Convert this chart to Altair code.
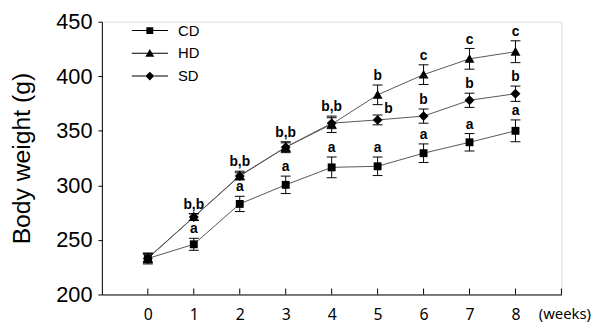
import altair as alt
import pandas as pd

weeks = [0, 1, 2, 3, 4, 5, 6, 7, 8]
groups = ["CD", "HD", "SD"]

cd_mean = [233, 246, 283, 300.5, 316.5, 317.5, 329.5, 339.5, 350]
cd_err = [5, 5.5, 7, 8, 9.5, 8.5, 8.5, 8, 10]
hd_mean = [233.5, 271, 309, 335, 356, 383, 401.5, 416, 422.5]
hd_err = [4, 3, 4, 5, 7.5, 9, 9, 9.5, 10]
sd_mean = [233, 271, 308.5, 335, 357, 360, 363.5, 378, 384]
sd_err = [4, 3, 3, 4, 5, 4.5, 6.5, 6.5, 7]

cd_lab = ["", "a", "a", "a", "a", "a", "a", "a", "a"]
hd_lab = ["", "b,b", "b,b", "b,b", "b,b", "b", "c", "c", "c"]
sd_lab = ["", "", "", "", "", "", "b", "b", "b"]
sd_side_lab = ["", "", "", "", "", "b", "", "", ""]

x_ticks = [0, 1, 2, 3, 4, 5, 6, 7, 8, 9]
y_ticks = [200, 250, 300, 350, 400, 450]

rows = []
for g, m, e, lab, side in [
    ("CD", cd_mean, cd_err, cd_lab, [""] * 9),
    ("HD", hd_mean, hd_err, hd_lab, [""] * 9),
    ("SD", sd_mean, sd_err, sd_lab, sd_side_lab),
]:
    for w, mv, ev, lv, sv in zip(weeks, m, e, lab, side):
        rows.append(dict(week=w, group=g, mean=mv, lo=mv - ev, hi=mv + ev, label=lv, side=sv))
df = pd.DataFrame(rows)

W, H = 465, 276
U = 18.5  # px per path unit (symbol box = 37px)
def p(v):
    return f"{v / U:.3f}"

# marker shapes (chart)
sq = f"M{p(-4)},{p(-4)}H{p(4)}V{p(4)}H{p(-4)}Z"
tri = f"M0,{p(-5)}L{p(5)},{p(4)}L{p(-5)},{p(4)}Z"
dia = f"M0,{p(-5)}L{p(5)},0L0,{p(5)}L{p(-5)},0Z"
# legend symbols: thin line + marker
def with_line(marker, gap):
    return (f"M-1,{p(-0.5)}H{p(-gap)}V{p(0.5)}H-1Z"
            f"M{p(gap)},{p(-0.5)}H1V{p(0.5)}H{p(gap)}Z" + marker)
sq_l = with_line(f"M{p(-3.5)},{p(-3.5)}H{p(3.5)}V{p(3.5)}H{p(-3.5)}Z", 3.5)
tri_l = with_line(f"M0,{p(-4.5)}L{p(4.5)},{p(3.5)}L{p(-4.5)},{p(3.5)}Z", 2)
dia_l = with_line(f"M0,{p(-4.5)}L{p(4.5)},0L0,{p(4.5)}L{p(-4.5)},0Z", 4.5)

FONT = "Liberation Sans"

x_scale = alt.Scale(domain=[-1, 9], nice=False, zero=False)
y_scale = alt.Scale(domain=[200, 450], nice=False, zero=False)
x_axis = alt.Axis(values=weeks, ticks=False, tickSize=0, labelPadding=12,
                  labelFont="Noto Sans", labelFontSize=16, labelColor="black",
                  domainColor="black", domainWidth=1, grid=False,
                  title="(weeks)", titleFont="Noto Sans", titleFontSize=15,
                  titleFontWeight="normal", titleColor="black",
                  titleX=468, titleY=19, titleAlign="center", titleBaseline="middle")
y_axis = alt.Axis(values=y_ticks, tickSize=4, tickColor="black", labelPadding=6,
                  labelFont=FONT, labelFontSize=22, labelColor="black",
                  domainColor="black", domainWidth=1, grid=False,
                  title="Body weight (g)", titleFont=FONT, titleFontSize=25,
                  titleFontWeight="normal", titleColor="black", titlePadding=22)

def X(field="week"):
    return alt.X(f"{field}:Q", scale=x_scale, axis=x_axis, title="(weeks)")

def Y(field):
    return alt.Y(f"{field}:Q", scale=y_scale, axis=y_axis, title="Body weight (g)")

base = alt.Chart(df)

lines = base.mark_line(color="#555555", strokeWidth=1).encode(
    x=X(), y=Y("mean"), detail="group:N", order="week:Q")

bars = base.mark_rule(color="black", strokeWidth=1).encode(
    x=X(), y=Y("lo"), y2="hi:Q")

caps = base.transform_fold(["lo", "hi"], as_=["k", "v"]).mark_tick(
    orient="horizontal", size=10, thickness=1, color="black", opacity=1).encode(
    x=X(), y=Y("v"))

points = base.mark_point(filled=True, color="black", opacity=1).encode(
    x=X(), y=Y("mean"),
    shape=alt.Shape("group:N", scale=alt.Scale(domain=groups, range=[sq, tri, dia]),
                    legend=None),
    size=alt.value(1369))

legend_layer = base.transform_filter("false").mark_point(
    filled=True, color="black", opacity=1).encode(
    x=X(), y=Y("mean"),
    shape=alt.Shape("group:N", scale=alt.Scale(domain=groups, range=[sq_l, tri_l, dia_l]),
                    legend=alt.Legend(title=None, orient="none", legendX=30, legendY=1,
                                      labelFont=FONT, labelFontSize=15, labelColor="black",
                                      labelOffset=10, symbolSize=1369,
                                      symbolStrokeWidth=0, clipHeight=16,
                                      rowPadding=7, padding=0)),
    size=alt.value(1369))

labels_above = base.transform_filter("datum.label != ''").mark_text(
    font=FONT, fontSize=14, fontWeight="bold", color="black",
    baseline="alphabetic", align="center", dy=-5).encode(
    x=X(), y=Y("hi"), text="label:N")

labels_side = base.transform_filter("datum.side != ''").mark_text(
    font=FONT, fontSize=14, fontWeight="bold", color="black",
    baseline="middle", align="center", dx=11, dy=-11).encode(
    x=X(), y=Y("mean"), text="side:N")

tick_df = pd.DataFrame({"t": x_ticks})
xticks = alt.Chart(tick_df).mark_rule(color="black", strokeWidth=1).encode(
    x=alt.X("t:Q", scale=x_scale, axis=x_axis, title="(weeks)"),
    y=alt.value(H), y2=alt.value(H - 6))

chart = alt.layer(lines, bars, caps, points, legend_layer, labels_above, labels_side,
                  xticks).resolve_scale(shape="independent").properties(
    width=W, height=H,
    autosize=alt.AutoSizeParams(type="none"),
    padding={"left": 95, "top": 12, "right": 37, "bottom": 29},
).configure_view(stroke=None).configure(background="white")

chart.save("out.html", embed_options={"renderer": "svg", "actions": False})
